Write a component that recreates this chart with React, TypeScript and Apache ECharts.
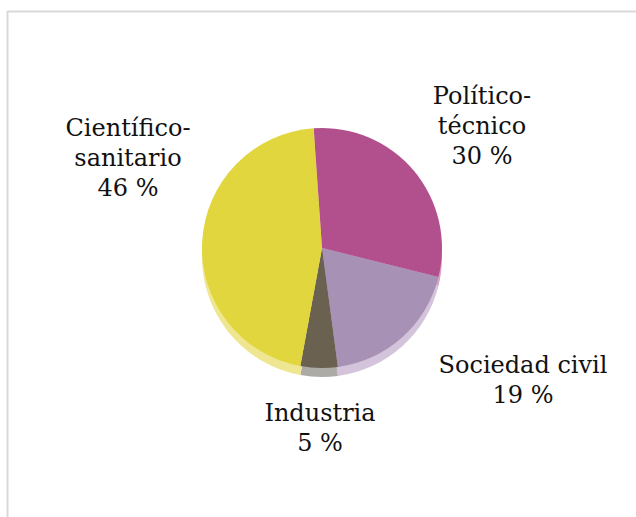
import React, { useEffect, useRef } from "react";
import * as echarts from "echarts";

const categories = ["Político-técnico", "Sociedad civil", "Industria", "Científico-sanitario"];
const values = [30, 19, 5, 46];
const colors = ["#b2508e", "#a791b4", "#6a6150", "#e1d63e"];
const sideColors = ["#d7a2c3", "#d3c4db", "#acaba6", "#efe692"];
// label anchor positions (chart pixels)
const labelPos = [
  [482, 126],
  [523, 380],
  [320, 428],
  [128, 158],
];
const FONT = "'DejaVu Serif', serif";

export default function App() {
  const ref = useRef<HTMLDivElement>(null);
  useEffect(() => {
    if (!ref.current) return;
    const chart = echarts.init(ref.current, null, { renderer: "svg" });
    const data = categories.map((c, i) => ({ name: c, value: values[i], itemStyle: { color: colors[i] } }));
    const sideData = categories.map((c, i) => ({ name: c, value: values[i], itemStyle: { color: sideColors[i] } }));
    chart.setOption({
      animation: false,
      backgroundColor: "#ffffff",
      textStyle: { fontFamily: FONT },
      graphic: [
        { type: "line", shape: { x1: 7, y1: 11.5, x2: 636, y2: 11.5 }, style: { stroke: "#d9d9d9", lineWidth: 2 } },
        { type: "line", shape: { x1: 7.5, y1: 11, x2: 7.5, y2: 517 }, style: { stroke: "#d9d9d9", lineWidth: 2 } },
      ],
      series: [
        {
          type: "pie",
          silent: true,
          center: [322, 257],
          radius: 120,
          startAngle: 94,
          clockwise: true,
          label: { show: false },
          labelLine: { show: false },
          data: sideData,
          z: 1,
        },
        {
          type: "pie",
          center: [322, 248],
          radius: 120,
          startAngle: 94,
          clockwise: true,
          data,
          z: 2,
          label: {
            show: true,
            position: "outside",
            formatter: (p: any) => `${String(p.name).replace("-", "-\n")}\n${p.value} %`,
            fontFamily: FONT,
            fontSize: 24,
            lineHeight: 30,
            color: "#111111",
            align: "center",
            overflow: "none",
          },
          labelLine: { show: false },
          labelLayout: (p: any) => ({
            x: labelPos[p.dataIndex][0],
            y: labelPos[p.dataIndex][1],
            align: "center",
            verticalAlign: "middle",
          }),
        },
      ],
    });
    return () => chart.dispose();
  }, []);
  return (
    <div
      ref={ref}
      style={{ position: "fixed", left: 0, top: 0, width: 636, height: 517 }}
    />
  );
}
